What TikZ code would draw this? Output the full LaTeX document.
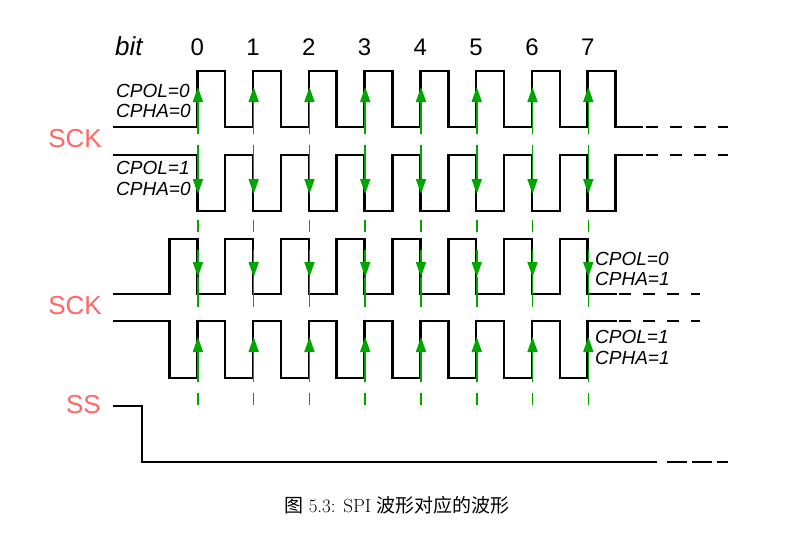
\documentclass[tikz,border=0pt]{standalone}
\usepackage{fontspec}
\newfontfamily\hel{Liberation Sans}
\newfontfamily\cjk{Noto Sans CJK SC}
\usetikzlibrary{arrows.meta}
\definecolor{sckred}{RGB}{255,102,102}
\definecolor{edgegreen}{RGB}{0,165,0}
\tikzset{
  wave/.style={line width=2.5pt, black, line join=miter},
  wavedash/.style={line width=2.5pt, black, dash pattern=on 12pt off 12pt},
  ssdash/.style={line width=2.5pt, black, dash pattern=on 20pt off 5pt},
  gline/.style={line width=1.6pt, edgegreen},
  garrow/.style={line width=1.6pt, edgegreen, -{Triangle[length=15pt,width=10pt]}},
  gdash/.style={line width=1.6pt, edgegreen},
  cplabel/.style={font=\hel\itshape\fontsize{19}{19}\selectfont, anchor=base west, inner sep=0pt},
  siglabel/.style={font=\hel\fontsize{26}{26}\selectfont, text=sckred, anchor=base east, inner sep=0pt},
  bitnum/.style={font=\hel\fontsize{24}{24}\selectfont, anchor=base, inner sep=0pt},
}
\begin{document}
\begin{tikzpicture}[x=1pt,y=-1pt]
\useasboundingbox (0,0) rectangle (786,539);
\def\per{55.77}
\def\hp{27.885}
\def\rz{197.3}
% waveform 1: CPOL=0 CPHA=0
\draw[wave] (113,127) foreach \k in {0,...,7} {
  -- ({\rz+\k*\per},127) -- ({\rz+\k*\per},71) -- ({\rz+\k*\per+\hp},71) -- ({\rz+\k*\per+\hp},127)
} -- (643,127);
\draw[wavedash] (646,127) -- (728,127);
% waveform 2: CPOL=1 CPHA=0
\draw[wave] (113,155) foreach \k in {0,...,7} {
  -- ({\rz+\k*\per},155) -- ({\rz+\k*\per},211) -- ({\rz+\k*\per+\hp},211) -- ({\rz+\k*\per+\hp},155)
} -- (643,155);
\draw[wavedash] (646,155) -- (728,155);
% waveform 3: CPOL=0 CPHA=1
\draw[wave] (113,294) foreach \k in {0,...,7} {
  -- ({\rz+\k*\per-\hp},294) -- ({\rz+\k*\per-\hp},239) -- ({\rz+\k*\per},239) -- ({\rz+\k*\per},294)
} -- (617,294);
\draw[wavedash] (619,294) -- (700,294);
% waveform 4: CPOL=1 CPHA=1
\draw[wave] (113,321) foreach \k in {0,...,7} {
  -- ({\rz+\k*\per-\hp},321) -- ({\rz+\k*\per-\hp},378) -- ({\rz+\k*\per},378) -- ({\rz+\k*\per},321)
} -- (617,321);
\draw[wavedash] (619,321) -- (700,321);
% SS
\draw[wave] (113,406) -- (142,406) -- (142,462) -- (657,462);
\draw[ssdash] (667,462) -- (728,462);
% green edge markers (on top of waveforms)
\foreach \k in {0,...,7}{
  \pgfmathsetmacro{\x}{\rz+\k*\per+0.6}
  \draw[garrow] (\x,134) -- (\x,87);
  \draw[garrow] (\x,145) -- (\x,194);
  \draw[gdash] (\x,220) -- (\x,232);
  \draw[garrow] (\x,250) -- (\x,277);
  \draw[gline] (\x,277) -- (\x,307);
  \draw[garrow] (\x,382) -- (\x,337);
  \draw[gdash] (\x,393) -- (\x,405);
}
% labels
\node[font=\hel\itshape\fontsize{26}{26}\selectfont, anchor=base west, inner sep=0pt] (bit) at (115,55) {bit};
\foreach \k in {0,...,7}{
  \node[bitnum] (n\k) at ({\rz+\k*\per},55) {\k};
}
\node[cplabel] (l1a) at (116,97) {CPOL=0};
\node[cplabel] (l1b) at (116,117) {CPHA=0};
\node[cplabel] (l2a) at (116,174) {CPOL=1};
\node[cplabel] (l2b) at (116,195) {CPHA=0};
\node[cplabel] (l3a) at (595,265) {CPOL=0};
\node[cplabel] (l3b) at (595,285) {CPHA=1};
\node[cplabel] (l4a) at (595,343) {CPOL=1};
\node[cplabel] (l4b) at (595,364) {CPHA=1};
\node[siglabel] (sck1) at (102,147) {SCK};
\node[siglabel] (sck2) at (102,314) {SCK};
\node[siglabel] (ss) at (101,413) {SS};
\node[anchor=base, inner sep=0pt, font=\fontsize{19}{19}\selectfont] (cap) at (397,512) {{\cjk 图}\ 5.3: SPI {\cjk 波形对应的波形}};
\end{tikzpicture}
\end{document}
